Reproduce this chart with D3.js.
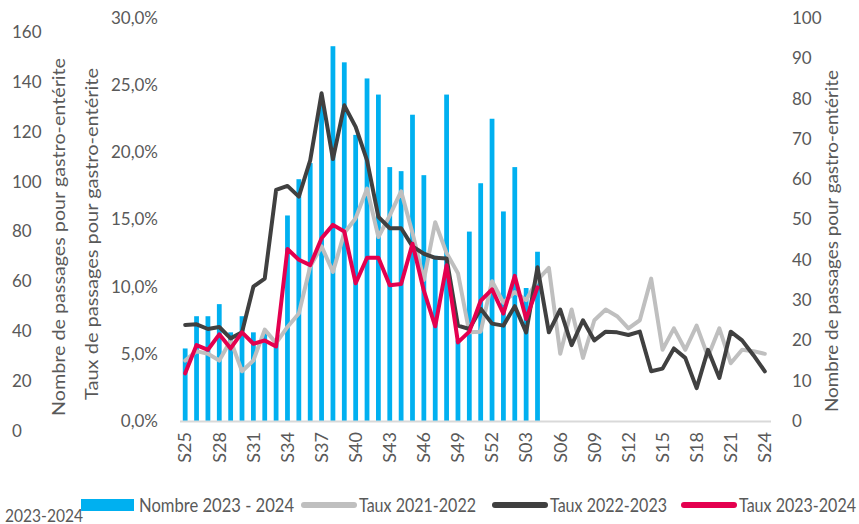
<!DOCTYPE html>
<html>
<head>
<meta charset="utf-8">
<script src="https://cdn.jsdelivr.net/npm/d3@7"></script>
<style>
  body { margin: 0; background: #fff; }
  text { font-family: Lato, "Open Sans", sans-serif; fill: #595959; }
</style>
</head>
<body>
<svg id="chart"></svg>
<script>
// Weeks S25 -> S52 then S01 -> S24
const weeks = [];
for (let w = 25; w <= 52; w++) weeks.push('S' + w);
for (let w = 1; w <= 24; w++) weeks.push('S' + String(w).padStart(2, '0'));

const weekTicks = weeks.filter((d, i) => i % 3 === 0);

// Nombre de passages 2023-2024 (S25 -> S04)
const nombre2324 = [18, 26, 26, 29, 22, 26, 22, 22, 20, 51, 60, 64, 80, 93, 89, 71,
  85, 81, 63, 62, 76, 61, 41, 81, 20, 47, 59, 75, 52, 63, 33, 42];

// Taux (%) par saison
const taux2122 = [4.5, 5.2, 5.0, 4.5, 6.0, 3.7, 4.5, 6.8, 5.8, 7.0, 8.0, 11.5, 13.0, 11.1, 14.0, 15.1,
  17.3, 13.7, 15.3, 17.1, 14.0, 10.5, 14.8, 12.5, 11.0, 6.6, 6.65, 10.4, 8.8, 9.6, 9.0, 10.5,
  11.4, 5.0, 8.3, 4.7, 7.5, 8.3, 7.8, 6.9, 7.5, 10.6, 5.3, 6.9, 5.3, 7.1, 4.8, 6.9, 4.3, 5.3, 5.2, 5.0];
const taux2223 = [7.15, 7.2, 6.85, 7.0, 6.15, 6.6, 10.0, 10.6, 17.2, 17.5, 16.7, 19.4, 24.4, 19.5, 23.5, 21.9,
  19.4, 15.2, 14.35, 14.35, 13.0, 12.45, 12.15, 12.1, 7.1, 6.85, 8.35, 7.25, 7.1, 8.55, 6.6, 11.45,
  6.6, 8.3, 5.65, 7.5, 6.0, 6.65, 6.6, 6.4, 6.65, 3.7, 3.9, 5.4, 4.7, 2.45, 5.3, 3.2, 6.65, 6.0, 4.9, 3.7];
const taux2324 = [3.55, 5.65, 5.3, 6.45, 5.4, 6.6, 5.75, 6.0, 5.55, 12.8, 12.0, 11.6, 13.6, 14.6, 14.1, 10.25,
  12.15, 12.15, 10.1, 10.2, 13.2, 9.7, 7.05, 11.6, 5.85, 6.65, 8.95, 9.8, 8.0, 10.8, 7.6, 9.95];

const pctTicks = [0, 5, 10, 15, 20, 25, 30];
const countTicks = [0, 10, 20, 30, 40, 50, 60, 70, 80, 90, 100];
const leftTicks = [0, 20, 40, 60, 80, 100, 120, 140, 160];

const lineSeries = [
  { name: 'Taux 2021-2022', values: taux2122, color: '#bfbfbf' },
  { name: 'Taux 2022-2023', values: taux2223, color: '#404040' },
  { name: 'Taux 2023-2024', values: taux2324, color: '#e4004f' }
];
const barColor = '#00b0f0';

const width = 859;
const height = 524;

const svg = d3.select('#chart')
  .attr('width', width)
  .attr('height', height);

// Scales
const x = d3.scaleBand().domain(weeks).range([179.5, 770.5]);
const yPct = d3.scaleLinear().domain([0, 30]).range([421, 18]);
const yCount = d3.scaleLinear().domain([0, 100]).range([421, 18]);
const yLeft = d3.scaleLinear().domain([0, 160]).range([431, 32]);

const cx = (d) => x(d) + x.bandwidth() / 2;

// Bars
const barW = x.bandwidth() * 0.42;
svg.append('g')
  .selectAll('rect')
  .data(nombre2324)
  .join('rect')
  .attr('x', (d, i) => cx(weeks[i]) - barW / 2)
  .attr('y', (d) => yCount(d))
  .attr('width', barW)
  .attr('height', (d) => yCount(0) - yCount(d))
  .attr('fill', barColor);

// X axis
const xAxis = svg.append('g')
  .attr('transform', 'translate(0,421)')
  .call(d3.axisBottom(x).tickValues(weekTicks).tickSize(0));
xAxis.select('.domain').attr('stroke', '#d9d9d9').attr('stroke-width', 2);
xAxis.selectAll('text')
  .attr('transform', 'rotate(-90)')
  .attr('x', -11)
  .attr('y', 0)
  .attr('dy', '0.35em')
  .style('text-anchor', 'end')
  .style('font-size', '18px')
  .style('fill', '#595959');

// Lines
const line = d3.line()
  .defined((d) => d != null)
  .x((d, i) => cx(weeks[i]))
  .y((d) => yPct(d));

svg.append('g')
  .selectAll('path')
  .data(lineSeries)
  .join('path')
  .attr('d', (s) => line(s.values))
  .attr('fill', 'none')
  .attr('stroke', (s) => s.color)
  .attr('stroke-width', 4)
  .attr('stroke-linejoin', 'round')
  .attr('stroke-linecap', 'round');

// Percentage axis
const pctAxis = svg.append('g')
  .attr('transform', 'translate(158,0)')
  .call(d3.axisLeft(yPct).tickValues(pctTicks).tickSize(0).tickPadding(0)
    .tickFormat((d) => d.toFixed(1).replace('.', ',') + '%'));
pctAxis.select('.domain').remove();
pctAxis.selectAll('text').style('font-size', '17px').style('fill', '#595959').style('font-family', 'Lato');

// Right count axis
const rightAxis = svg.append('g')
  .attr('transform', 'translate(792,0)')
  .call(d3.axisRight(yCount).tickValues(countTicks).tickSize(0).tickPadding(0));
rightAxis.select('.domain').remove();
rightAxis.selectAll('text').style('font-size', '17px').style('fill', '#595959').style('font-family', 'Lato');

// Leftmost count axis
const leftAxis = svg.append('g')
  .attr('transform', 'translate(12,0)')
  .call(d3.axisRight(yLeft).tickValues(leftTicks).tickSize(0).tickPadding(0));
leftAxis.select('.domain').remove();
leftAxis.selectAll('text').style('font-size', '17px').style('fill', '#595959').style('font-family', 'Lato');

// Axis titles
const titles = [
  { text: 'Nombre de passages pour gastro-entérite', x: 59, y: 237, len: 358 },
  { text: 'Taux de passages pour gastro-entérite', x: 92, y: 234, len: 332 },
  { text: 'Nombre de passages pour gastro-entérite', x: 832, y: 241, len: 342 }
];
svg.selectAll('.axis-title')
  .data(titles)
  .join('text')
  .attr('class', 'axis-title')
  .attr('transform', (d) => `translate(${d.x},${d.y}) rotate(-90)`)
  .attr('dy', '0.35em')
  .attr('textLength', (d) => d.len)
  .attr('lengthAdjust', 'spacingAndGlyphs')
  .style('text-anchor', 'middle')
  .style('font-size', '18px')
  .text((d) => d.text);

// Legend
const legend = svg.append('g').attr('transform', 'translate(0,505)');
legend.append('rect')
  .attr('x', 81).attr('y', -6).attr('width', 53).attr('height', 12)
  .attr('fill', barColor);
legend.append('text')
  .attr('x', 139).attr('dy', '0.35em')
  .attr('textLength', 155).attr('lengthAdjust', 'spacingAndGlyphs')
  .style('font-size', '19px')
  .text('Nombre 2023 - 2024');

const legendPos = [301, 492, 681];
const legendItems = legend.selectAll('.item')
  .data(lineSeries)
  .join('g')
  .attr('class', 'item')
  .attr('transform', (d, i) => `translate(${legendPos[i]},0)`);
legendItems.append('line')
  .attr('x1', 3).attr('x2', 53)
  .attr('stroke', (d) => d.color)
  .attr('stroke-width', 6)
  .attr('stroke-linecap', 'round');
legendItems.append('text')
  .attr('x', 58).attr('dy', '0.35em')
  .attr('textLength', 117).attr('lengthAdjust', 'spacingAndGlyphs')
  .style('font-size', '19px')
  .text((d) => d.name);

svg.append('text')
  .attr('x', 5).attr('y', 522)
  .attr('textLength', 78).attr('lengthAdjust', 'spacingAndGlyphs')
  .style('font-size', '17px')
  .text('2023-2024');
</script>
</body>
</html>
